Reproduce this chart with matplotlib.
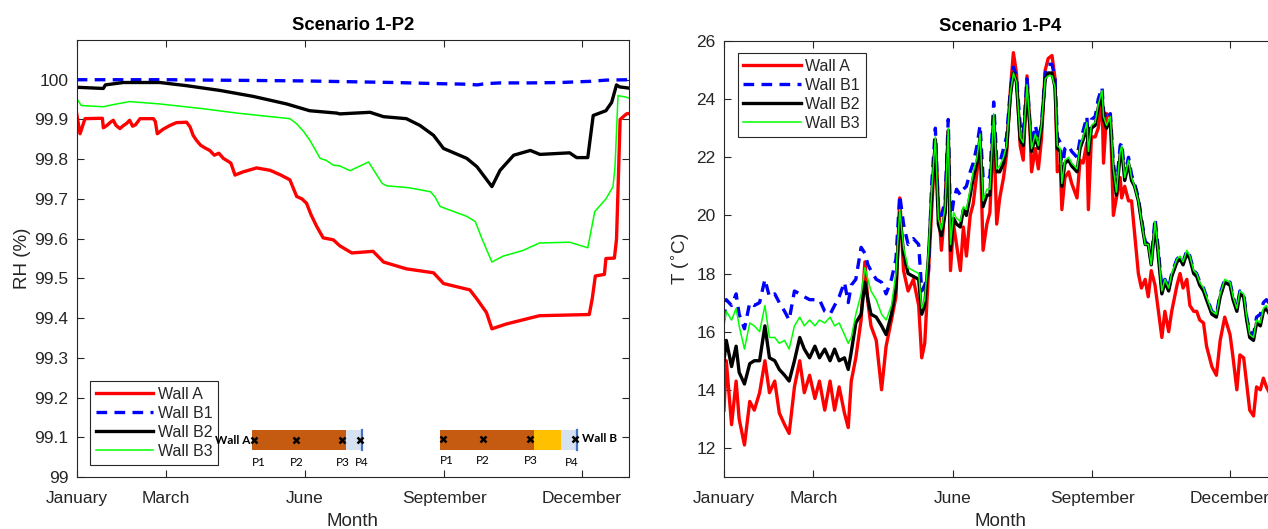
import matplotlib
matplotlib.use("Agg")
import matplotlib.pyplot as plt
from matplotlib.patches import Rectangle
from matplotlib.lines import Line2D

# ---------------- data ----------------
series_labels = ["Wall A", "Wall B1", "Wall B2", "Wall B3"]
month_ticks = [0, 59, 151, 243, 334]
month_labels = ["January", "March", "June", "September", "December"]

# Left panel: RH (%) at P2 (day of year)
rh_a_days = [0, 2.2, 5.5, 17, 17.6, 20, 22, 24.2, 26, 28.6, 31, 33, 35, 37, 39, 41.9, 50.7, 52, 53.3,
             57, 61.7, 66, 72.7, 75, 77, 79.3, 82, 85, 88, 91, 94, 97, 100, 102, 104.7, 110, 119,
             127.9, 135, 141, 145.5, 149, 152, 155, 158.7, 163, 169.7, 174, 181.9, 196, 203, 218,
             236, 242.6, 260, 264.7, 271, 274.6, 284, 306, 339, 341, 343, 349, 350, 355.6, 357,
             359.4, 363.6, 365]
rh_a = [99.914, 99.864, 99.902, 99.903, 99.879, 99.885, 99.892, 99.898, 99.885, 99.877, 99.885,
        99.890, 99.898, 99.883, 99.887, 99.902, 99.902, 99.895, 99.864, 99.875, 99.885, 99.892,
        99.893, 99.881, 99.860, 99.847, 99.835, 99.828, 99.822, 99.810, 99.815, 99.802, 99.795,
        99.790, 99.760, 99.768, 99.778, 99.772, 99.760, 99.748, 99.706, 99.700, 99.689, 99.660,
        99.631, 99.602, 99.597, 99.582, 99.564, 99.568, 99.541, 99.524, 99.514, 99.487, 99.471,
        99.448, 99.414, 99.373, 99.385, 99.406, 99.409, 99.450, 99.506, 99.510, 99.550, 99.551,
        99.598, 99.900, 99.914, 99.915]

rh_b1_days = [0, 60, 90, 120, 150, 180, 210, 240, 255, 265, 270, 280, 300, 320, 340, 350, 365]
rh_b1 = [100.0, 100.0, 99.999, 99.998, 99.997, 99.995, 99.993, 99.990, 99.989, 99.987, 99.990,
         99.992, 99.992, 99.993, 99.996, 99.999, 100.0]

rh_b2_days = [0, 17.6, 19, 30.8, 55, 72.7, 94.8, 116.8, 138.9, 154, 172, 174, 194, 202.9, 218,
              227, 236, 242.6, 250, 258, 264.7, 274.6, 280, 289, 300, 306.4, 326, 330.6, 338,
              341.6, 350, 353.8, 357, 359, 365]
rh_b2 = [99.981, 99.978, 99.987, 99.993, 99.993, 99.985, 99.973, 99.958, 99.939, 99.922, 99.916,
         99.914, 99.918, 99.907, 99.902, 99.885, 99.860, 99.827, 99.815, 99.802, 99.781, 99.731,
         99.772, 99.810, 99.822, 99.812, 99.816, 99.804, 99.804, 99.910, 99.922, 99.943, 99.987,
         99.982, 99.979]

rh_b3_days = [0, 3, 17.6, 25, 35, 55, 83.7, 106, 141, 145.5, 150, 154.3, 161, 165, 169.7, 174,
              180.8, 193, 202, 205, 220, 234, 237, 240.3, 258, 263.6, 268, 274.6, 278, 282, 295,
              306, 326, 338, 342.6, 350, 354.7, 356, 358, 363.6, 365]
rh_b3 = [99.953, 99.935, 99.932, 99.938, 99.945, 99.939, 99.927, 99.916, 99.902, 99.889, 99.870,
         99.847, 99.802, 99.797, 99.785, 99.783, 99.771, 99.793, 99.739, 99.733, 99.728, 99.718,
         99.705, 99.681, 99.656, 99.643, 99.600, 99.541, 99.548, 99.556, 99.570, 99.589, 99.591,
         99.577, 99.668, 99.700, 99.731, 99.780, 99.960, 99.956, 99.954]

# Right panel: temperature (deg C) at P4
t_days = [0, 1.5, 5, 8, 10, 13.5, 17, 20, 23.5, 27, 30, 33.5, 36.5, 40, 43, 46.5, 50, 53, 56.5, 60,
          63, 66.5, 70, 73, 76, 79.5, 82, 84, 87, 90.5, 93, 95, 97, 100.5, 104, 107, 110.5, 113.5,
          116, 118.5, 121.5, 125, 128.5, 130.5, 132.5, 135, 137, 139.5, 141.5, 143.5, 146, 148,
          149.5, 151.5, 153.5, 156, 158, 160, 162.5, 164.5, 167, 169, 171, 173.5, 175.5, 178, 180,
          182, 184.5, 186.5, 189, 191, 193, 195.5, 197.5, 200, 202, 203, 205.5, 207.5, 209.5, 212,
          214, 216.5, 218.5, 220, 222, 223, 225, 227.5, 229.5, 233,
          235, 237, 239.5, 240.5, 242.5, 245, 247, 249.5, 250.5, 252.5, 255, 257, 259, 261.5, 262.5,
          264.5, 267, 269, 271, 273.5, 275.5, 278, 280, 282, 284.5, 286.5, 289, 291, 293.5, 295.5,
          299, 301, 303, 305.5, 307.5, 310, 312, 314, 316.5, 318.5, 322, 325, 327.5, 330.5, 334,
          336, 338.5, 340.5, 343, 345, 347, 349.5, 351.5, 354, 356, 358, 361, 365]

t_a = [13.3, 15.0, 12.8, 14.3, 13.0, 12.1, 13.6, 13.3, 13.9, 15.0,
       13.9, 14.3, 13.2, 12.8, 12.5, 14.1, 15.0, 13.9, 14.5, 13.7,
       14.3, 13.3, 14.3, 13.3, 14.1, 13.2, 12.7, 14.3, 15.1, 16.4,
       18.4, 17.0, 16.2, 15.7, 14.0, 15.5, 16.4, 17.2,
       20.6, 18.1, 17.4, 17.8, 16.9, 15.1, 15.6, 18.1, 20.1, 22.6,
       20.4, 18.8, 20.4, 22.9, 18.1, 19.7, 19.0, 18.1, 19.6, 18.6,
       20.0, 20.4, 21.5, 22.5, 18.8, 19.7, 20.1, 23.1, 19.7, 20.6,
       21.3, 22.1, 24.3, 25.6, 24.9, 22.4, 21.9, 24.8, 22.9, 21.5,
       22.3, 21.6, 22.6, 25.0, 25.4, 25.5, 24.7, 21.5, 21.7, 20.2,
       21.3, 21.5, 21.1, 20.6,
       21.9, 21.8, 22.5, 20.2, 22.7, 22.7, 23.0, 24.0, 21.8, 23.5,
       23.4, 20.0, 20.6, 21.3, 20.6, 21.0, 20.5, 20.5, 19.4, 18.0,
       17.5, 17.8, 17.2, 18.1, 17.6, 16.8, 15.8, 16.7, 16.0, 16.7,
       17.6, 18.0, 17.5, 17.8, 16.9, 16.7, 16.7, 16.4, 16.3, 15.5,
       14.8, 14.5, 15.7, 16.5, 15.9, 15.1, 14.0, 15.2, 15.1, 14.2,
       13.3, 13.1, 14.1, 14.0, 14.4, 14.1, 13.8, 14.0]

t_b1 = [16.4, 17.1, 16.9, 17.3, 16.6, 16.1, 17.0, 16.9, 17.0, 17.8,
        17.2, 17.3, 17.0, 16.7, 16.4, 17.4, 17.3, 17.2, 17.1, 17.1,
        17.1, 16.7, 16.6, 16.9, 17.2, 17.7, 17.0, 17.6, 17.8, 18.9,
        18.7, 18.3, 18.1, 17.8, 17.7, 17.3, 17.8, 18.5,
        20.7, 19.7, 19.0, 19.2, 19.0, 17.4, 17.6, 18.1, 21.0, 23.0,
        20.1, 20.0, 20.5, 23.3, 19.7, 20.5, 20.9, 20.7, 20.9, 21.0,
        21.5, 21.8, 22.4, 23.1, 21.3, 21.4, 21.3, 23.9, 21.9, 21.8,
        22.3, 22.7, 24.3, 25.1, 24.8, 23.1, 22.8, 24.7, 23.2, 22.4,
        23.1, 22.6, 23.1, 24.9, 25.2, 25.2, 24.7, 22.7, 22.5, 21.5,
        22.3, 22.4, 22.2, 22.0,
        22.6, 22.9, 23.4, 22.4, 23.3, 23.4, 24.0, 24.4, 23.6, 23.3,
        23.5, 21.8, 21.0, 22.4, 22.5, 21.4, 22.0, 21.4, 21.1, 20.6,
        19.9, 19.1, 19.0, 18.4, 19.9, 18.9, 17.5, 17.8, 17.5, 18.0,
        18.5, 18.6, 18.4, 18.8, 18.6, 18.1, 18.0, 17.7, 17.5, 17.2,
        16.7, 16.6, 17.3, 17.8, 17.7, 17.2, 16.8, 17.4, 17.3, 16.5,
        16.0, 15.9, 16.5, 16.6, 17.0, 17.1, 16.9, 17.0]

t_b2 = [15.0, 15.7, 14.8, 15.5, 14.6, 14.2, 14.9, 15.0, 15.0, 16.2,
        15.1, 15.0, 14.7, 14.5, 14.3, 15.0, 15.8, 15.4, 15.1, 15.5,
        15.1, 15.4, 15.0, 15.4, 15.0, 15.1, 14.7, 15.3, 16.3, 16.6,
        17.7, 17.1, 16.6, 16.5, 16.2, 15.9, 16.6, 17.5,
        20.1, 18.7, 18.0, 17.9, 17.8, 16.6, 16.9, 18.6, 20.6, 22.6,
        19.7, 19.3, 20.1, 22.9, 18.8, 19.9, 19.7, 19.6, 20.2, 20.0,
        20.7, 21.3, 21.8, 22.7, 20.3, 20.7, 20.7, 23.4, 21.5, 21.5,
        21.8, 22.3, 24.1, 24.9, 24.6, 22.6, 22.4, 24.4, 23.0, 22.2,
        22.7, 22.3, 23.0, 24.7, 24.9, 24.9, 24.4, 22.3, 22.2, 21.0,
        21.8, 21.9, 21.7, 21.5,
        22.3, 22.6, 23.1, 22.1, 23.0, 23.1, 23.7, 24.2, 23.3, 23.0,
        23.3, 21.5, 20.7, 22.1, 22.3, 21.2, 21.8, 21.2, 21.0, 20.5,
        19.8, 19.0, 19.0, 18.3, 19.7, 18.7, 17.3, 17.7, 17.4, 17.9,
        18.4, 18.5, 18.3, 18.7, 18.5, 18.0, 17.9, 17.6, 17.4, 17.1,
        16.6, 16.5, 17.2, 17.7, 17.6, 17.1, 16.7, 17.3, 17.2, 16.4,
        15.8, 15.7, 16.3, 16.2, 16.7, 16.8, 16.5, 16.7]

t_b3 = [16.2, 16.7, 16.4, 16.8, 16.2, 15.4, 16.3, 16.2, 16.0, 16.9,
        15.8, 15.8, 15.6, 15.7, 15.4, 16.2, 16.5, 16.2, 16.4, 16.2,
        16.4, 16.3, 16.5, 16.2, 16.3, 15.9, 15.6, 15.8, 16.6, 17.3,
        18.2, 17.8, 17.4, 17.1, 16.6, 16.4, 16.9, 18.0,
        20.2, 18.9, 18.2, 18.1, 18.0, 16.8, 17.1, 18.8, 20.8, 22.7,
        19.9, 19.5, 20.3, 23.0, 19.0, 20.1, 19.9, 19.8, 20.3, 20.2,
        20.9, 21.5, 22.0, 22.8, 20.5, 20.9, 20.9, 23.5, 21.6, 21.7,
        22.0, 22.4, 24.2, 24.9, 24.6, 22.7, 22.5, 24.5, 23.1, 22.3,
        22.8, 22.4, 23.1, 24.7, 24.8, 24.8, 24.4, 22.4, 22.3, 21.1,
        21.9, 22.0, 21.8, 21.6,
        22.4, 22.7, 23.2, 22.2, 23.1, 23.2, 23.8, 24.3, 23.4, 23.1,
        23.4, 21.6, 20.8, 22.2, 22.4, 21.3, 21.9, 21.3, 21.0, 20.5,
        19.8, 19.0, 19.0, 18.3, 19.8, 18.8, 17.4, 17.8, 17.5, 18.0,
        18.5, 18.6, 18.4, 18.8, 18.6, 18.1, 18.0, 17.7, 17.5, 17.2,
        16.7, 16.6, 17.3, 17.8, 17.7, 17.2, 16.8, 17.4, 17.3, 16.5,
        15.9, 15.8, 16.4, 16.3, 16.8, 16.9, 16.6, 16.8]

rh_yticks = [99.0, 99.1, 99.2, 99.3, 99.4, 99.5, 99.6, 99.7, 99.8, 99.9, 100.0]
rh_ytick_labels = ["99", "99.1", "99.2", "99.3", "99.4", "99.5", "99.6", "99.7", "99.8", "99.9", "100"]
t_yticks = [12, 14, 16, 18, 20, 22, 24, 26]
point_labels = ["P1", "P2", "P3", "P4"]

# ---------------- style ----------------
plt.rcParams["font.family"] = ["Liberation Sans", "DejaVu Sans"]
AX_COL = "#262626"
W, H = 1268, 529

fig = plt.figure(figsize=(W / 100, H / 100), dpi=100)
axL = fig.add_axes([76.7 / W, 1 - 477 / H, (628.6 - 76.7) / W, (477 - 40) / H])
axR = fig.add_axes([724 / W, 1 - 477 / H, (1277 - 724) / W, (477 - 41) / H])

styles = [
    dict(color=(1, 0, 0), lw=2.4, ls="-"),
    dict(color=(0, 0, 1), lw=2.4, ls=(0, (3.2, 2.2))),
    dict(color="black", lw=2.4, ls="-"),
    dict(color=(0, 1, 0), lw=1.1, ls="-"),
]

rh_sets = [(rh_a_days, rh_a), (rh_b1_days, rh_b1), (rh_b2_days, rh_b2), (rh_b3_days, rh_b3)]
for (d, v), st, lab in zip(rh_sets, styles, series_labels):
    axL.plot(d, v, label=lab, **st)

t_sets = [t_a, t_b1, t_b2, t_b3]
for v, st, lab in zip(t_sets, styles, series_labels):
    axR.plot(t_days, v, label=lab, **st)

for ax in (axL, axR):
    ax.set_xlim(0, 365)
    ax.set_xticks(month_ticks)
    ax.set_xticklabels(month_labels)
    ax.tick_params(direction="in", top=True, right=True, length=5, width=0.8,
                   colors=AX_COL, labelsize=12.5, pad=6)
    ax.tick_params(axis="x", pad=10)
    for s in ax.spines.values():
        s.set_color(AX_COL)
        s.set_linewidth(0.8)
    ax.set_xlabel("Month", fontsize=13.5, color=AX_COL, labelpad=5)
    leg = ax.legend(fontsize=11.5, handlelength=3.6, labelspacing=0.25, borderpad=0.35,
                    handletextpad=0.3, fancybox=False, framealpha=1, edgecolor=AX_COL)
    leg.get_frame().set_linewidth(0.8)
    for t in leg.get_texts():
        t.set_color(AX_COL)

axL.set_ylim(99.0, 100.1)
axL.set_yticks(rh_yticks)
axL.set_yticklabels(rh_ytick_labels)
axL.set_ylabel("RH (%)", fontsize=13.5, color=AX_COL, labelpad=2)
axL.set_title("Scenario 1-P2", fontsize=13.3, fontweight="bold", pad=7)
axL.get_legend().set_loc("lower left")
axL.get_legend().set_bbox_to_anchor((0.01, 0.01))

axR.set_ylim(11, 26)
axR.set_yticks(t_yticks)
axR.set_ylabel(r"T ($^{\circ}$C)", fontsize=13.5, color=AX_COL, labelpad=4)
axR.set_title("Scenario 1-P4", fontsize=13.3, fontweight="bold", pad=7)
axR.get_legend().set_loc("upper left")
axR.get_legend().set_bbox_to_anchor((0.01, 0.99))

# ---------------- wall section insets (figure pixel coordinates) ----------------
ORANGE = "#C55A11"
YELLOW = "#FFC000"
LBLUE = "#D6E1F2"
BLINE = "#4472C4"
inset_font = ["Lato", "DejaVu Sans"]


def rect(x0, x1, y0, y1, color):
    fig.add_artist(Rectangle((x0 / W, 1 - y1 / H), (x1 - x0) / W, (y1 - y0) / H,
                             transform=fig.transFigure, facecolor=color, edgecolor="none"))


def vline(x, y0, y1):
    fig.add_artist(Line2D([x / W, x / W], [1 - y0 / H, 1 - y1 / H], transform=fig.transFigure,
                          color=BLINE, lw=1.6))


def xmarks(xs, y):
    fig.add_artist(Line2D([x / W for x in xs], [1 - y / H] * len(xs), transform=fig.transFigure,
                          marker="x", ms=5, mew=1.8, color="black", ls="none"))


def ftext(x, y, s, ha="center", bold=False):
    fig.text(x / W, 1 - y / H, s, ha=ha, va="center", fontsize=8.5, family=inset_font,
             fontweight="bold" if bold else "normal", color="black")


# Wall A strip
rect(252, 346, 430, 450, ORANGE)
rect(346, 362, 430, 450, LBLUE)
vline(362, 430, 450)
xmarks([254, 296, 342, 360], 440)
ftext(250, 440, "Wall A", ha="right", bold=True)
for x, lab in zip([259, 297, 343, 362], point_labels):
    ftext(x, 462, lab)

# Wall B strip
rect(440, 534, 430, 450, ORANGE)
rect(534, 561, 430, 450, YELLOW)
rect(561, 577, 430, 450, LBLUE)
vline(577, 430, 450)
xmarks([443, 483, 530, 575], 439)
ftext(582, 439, "Wall B", ha="left", bold=True)
for x, y, lab in zip([447, 483, 531, 572], [460, 460, 460, 463], point_labels):
    ftext(x, y, lab)

fig.savefig("out.png", dpi=100)
